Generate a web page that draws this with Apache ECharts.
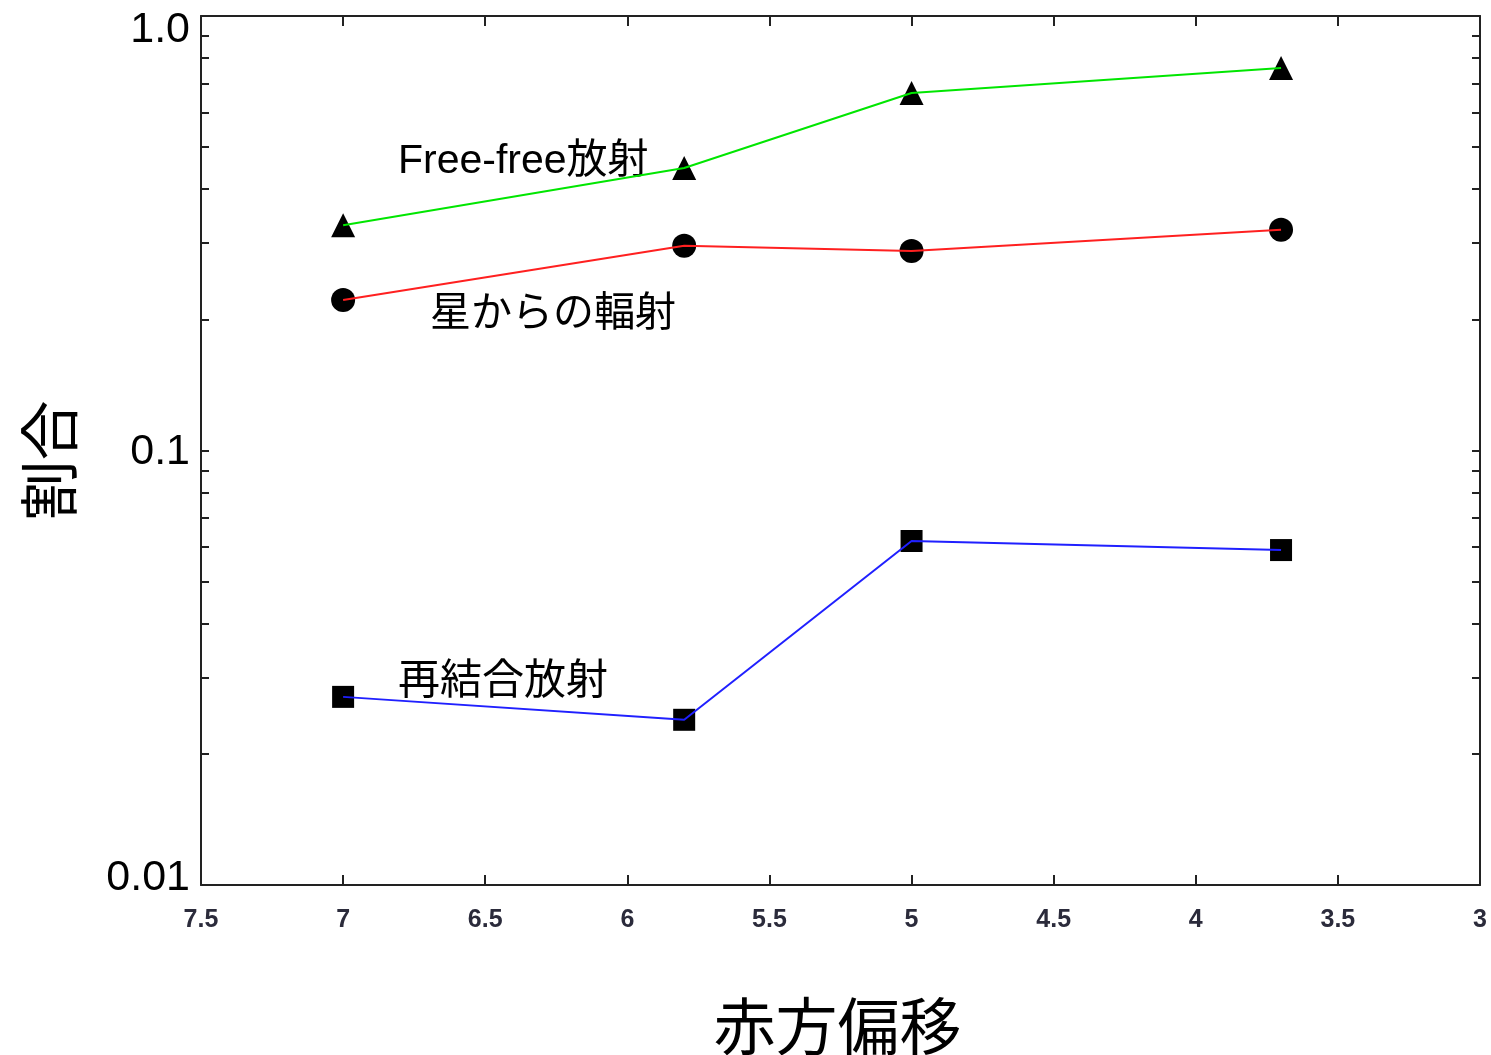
<!DOCTYPE html>
<html>
<head>
<meta charset="utf-8">
<script src="https://cdn.jsdelivr.net/npm/echarts@6/dist/echarts.min.js"></script>
<style>
  html, body { margin: 0; padding: 0; background: #fff; }
  #chart { width: 1491px; height: 1055px; }
</style>
</head>
<body>
<div id="chart"></div>
<script>
// Redshift values (x) shared by all three components
const redshift = [7.0, 5.8, 5.0, 3.7];

// Fractional contribution of each emission component
const freeFree = [0.330, 0.447, 0.665, 0.759];
const stellar = [0.222, 0.296, 0.288, 0.322];
const recombination = [0.0271, 0.0240, 0.0619, 0.0590];

// Log-axis ticks: labelled decades and minor ticks in between
const yLabelValues = [0.01, 0.1, 1];
const yTickValues = [
  0.01, 0.02, 0.03, 0.04, 0.05, 0.06, 0.07, 0.08, 0.09,
  0.1, 0.2, 0.3, 0.4, 0.5, 0.6, 0.7, 0.8, 0.9, 1
];

const pairs = ys => redshift.map((x, i) => [x, ys[i]]);

const LATIN = 'Arial, "Liberation Sans", sans-serif';
const CJK = '"Noto Sans CJK JP", "Liberation Sans", sans-serif';
const MIXED = 'Arial, "Liberation Sans", "Noto Sans CJK JP", sans-serif';
const AXIS_COLOR = '#222';

function markerSeries(ys, symbol, size) {
  return {
    type: 'scatter', data: pairs(ys), symbol: symbol, symbolSize: size,
    itemStyle: { color: '#000', opacity: 1 }, z: 2, silent: true
  };
}
function lineSeries(ys, color) {
  return {
    type: 'line', data: pairs(ys), showSymbol: false, symbol: 'none',
    lineStyle: { color: color, width: 2 }, z: 3, silent: true
  };
}

// Decade labels: top one sits a little below its tick, bottom one a little above
function yLabel(v) {
  if (v >= 1) return '{top|1.0}';
  if (v < 0.05) return '{bot|0.01}';
  return '{mid|0.1}';
}
const yLabelText = { fontFamily: LATIN, fontSize: 43, color: '#000' };

const chart = echarts.init(document.getElementById('chart'));
chart.setOption({
  backgroundColor: '#fff',
  animation: false,
  grid: { left: 201, right: 11, top: 16, bottom: 170, outerBoundsMode: 'none', containLabel: false },
  xAxis: [{
    type: 'value', min: 3, max: 7.5, interval: 0.5, inverse: true,
    name: '赤方偏移', nameLocation: 'middle', nameGap: 110,
    nameTextStyle: { fontFamily: CJK, fontSize: 62, color: '#000', padding: [0, 6, 0, 0] },
    axisLine: { lineStyle: { color: AXIS_COLOR, width: 2 } },
    axisTick: { inside: true, length: 10, lineStyle: { color: AXIS_COLOR, width: 2 } },
    axisLabel: { margin: 23, fontFamily: LATIN, fontSize: 25, fontWeight: 'bold', color: '#2b2b3b' },
    splitLine: { show: false }
  }, {
    type: 'value', min: 3, max: 7.5, interval: 0.5, inverse: true, position: 'top',
    axisLine: { lineStyle: { color: AXIS_COLOR, width: 2 } },
    axisTick: { inside: true, length: 10, lineStyle: { color: AXIS_COLOR, width: 2 } },
    axisLabel: { show: false }, splitLine: { show: false }
  }],
  yAxis: [{
    type: 'log', logBase: 10, min: 0.01, max: 1,
    name: '割合', nameLocation: 'middle', nameGap: 122,
    nameTextStyle: { fontFamily: CJK, fontSize: 60, color: '#000', padding: [0, 20, 0, 0] },
    axisLine: { lineStyle: { color: AXIS_COLOR, width: 2 } },
    axisTick: { inside: true, length: 8, customValues: yTickValues, lineStyle: { color: AXIS_COLOR, width: 2 } },
    axisLabel: {
      customValues: yLabelValues, margin: 11,
      formatter: yLabel,
      rich: {
        top: Object.assign({ padding: [28, 0, 0, 0] }, yLabelText),
        mid: Object.assign({ padding: [4, 0, 0, 0] }, yLabelText),
        bot: Object.assign({ padding: [0, 0, 14, 0] }, yLabelText)
      }
    },
    splitLine: { show: false }
  }, {
    type: 'log', logBase: 10, min: 0.01, max: 1, position: 'right',
    axisLine: { lineStyle: { color: AXIS_COLOR, width: 2 } },
    axisTick: { inside: true, length: 8, customValues: yTickValues, lineStyle: { color: AXIS_COLOR, width: 2 } },
    axisLabel: { show: false }, splitLine: { show: false }
  }],
  series: [
    markerSeries(freeFree, 'triangle', 24),
    markerSeries(stellar, 'circle', 24),
    markerSeries(recombination, 'rect', 22),
    lineSeries(freeFree, '#00e600'),
    lineSeries(stellar, '#ff2020'),
    lineSeries(recombination, '#2020ff')
  ],
  graphic: [
    { type: 'text', left: 398, top: 141, style: { text: 'Free-free放射', font: '41px ' + MIXED, fill: '#000' } },
    { type: 'text', left: 430, top: 290, style: { text: '星からの輻射', font: '41px ' + CJK, fill: '#000' } },
    { type: 'text', left: 398, top: 657, style: { text: '再結合放射', font: '42px ' + CJK, fill: '#000' } }
  ]
});
</script>
</body>
</html>
